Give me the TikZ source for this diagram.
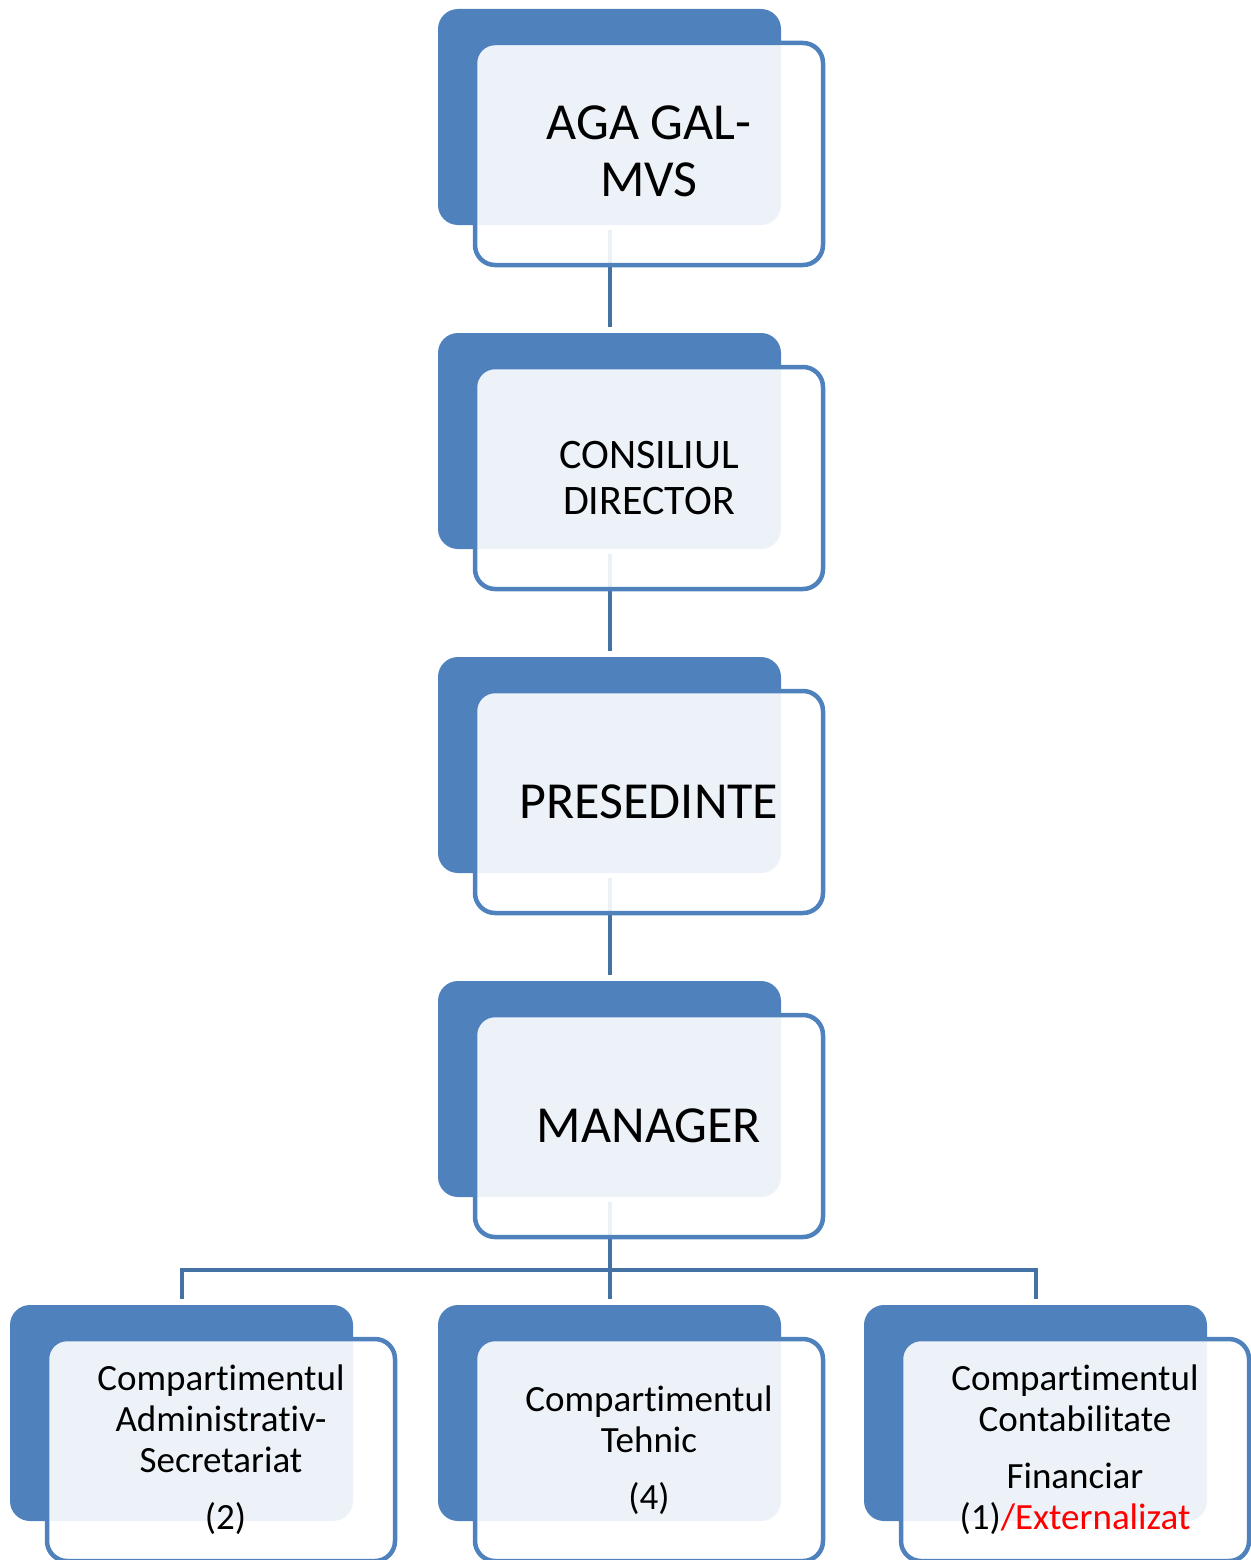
\documentclass[tikz,border=0pt]{standalone}
\usepackage{fontspec}
\setmainfont{Carlito}[Ligatures={NoCommon,NoContextual}]
\definecolor{boxblue}{RGB}{79,129,189}
\definecolor{linkblue}{RGB}{68,114,164}
\begin{document}
\begin{tikzpicture}[x=1pt,y=-1pt,
  backbox/.style={fill=boxblue, rounded corners=20pt, minimum width=343pt, minimum height=216pt, inner sep=0pt, outer sep=0pt, anchor=north west},
  frontbox/.style={draw=boxblue, line width=4.5pt, fill=white, fill opacity=0.9, text opacity=1, rounded corners=20pt, minimum width=348pt, minimum height=222pt, inner sep=0pt, outer sep=0pt, align=center, text=black},
  conn/.style={draw=linkblue, line width=4pt},
  bigtxt/.style={font=\fontsize{52}{57}\selectfont},
  midtxt/.style={font=\fontsize{42}{46}\selectfont},
  smalltxt/.style={font=\fontsize{37}{41}\selectfont}]
\useasboundingbox (0,0) rectangle (1250,1560);
% back boxes
\node[backbox] (agab) at (438,9) {};
\node[backbox] (cdb) at (438,333) {};
\node[backbox] (presb) at (438,657) {};
\node[backbox] (mgrb) at (438,981) {};
\node[backbox] (admb) at (10,1305) {};
\node[backbox] (tehb) at (438,1305) {};
\node[backbox] (contb) at (864,1305) {};
% connectors
\coordinate (bus) at (609,1270);
\draw[conn] ([yshift=-5pt]agab.south) -- ([yshift=6pt]cdb.north);
\draw[conn] ([yshift=-5pt]cdb.south) -- ([yshift=6pt]presb.north);
\draw[conn] ([yshift=-5pt]presb.south) -- ([yshift=6pt]mgrb.north);
\draw[conn] ([yshift=-5pt]mgrb.south) -- ([yshift=6pt]tehb.north);
\draw[conn] ([yshift=6pt]admb.north) -- (admb.north |- bus) -- (contb.north |- bus) -- ([yshift=6pt]contb.north);
% front boxes
\node[frontbox] (aga) at (649,154) {};
\node[bigtxt, align=center, inner sep=0pt] (agat) at (649,151) {AGA GAL-\\MVS};
\node[frontbox, midtxt] (cd) at (649,478) {CONSILIUL\\DIRECTOR};
\node[frontbox, bigtxt] (pres) at (649,802) {PRESEDINTE};
\node[frontbox, bigtxt] (mgr) at (649,1126) {MANAGER};
\node[frontbox, smalltxt] (adm) at (221,1450) {Compartimentul\\Administrativ-\\Secretariat\\[16pt]\hspace*{9pt}(2)};
\node[frontbox, smalltxt] (teh) at (649,1450) {Compartimentul\\Tehnic\\[16pt](4)};
\node[frontbox, smalltxt] (cont) at (1075,1450) {Compartimentul\\Contabilitate\\[16pt]Financiar\\(1)\textcolor{red}{/Externalizat}};
\end{tikzpicture}
\end{document}
